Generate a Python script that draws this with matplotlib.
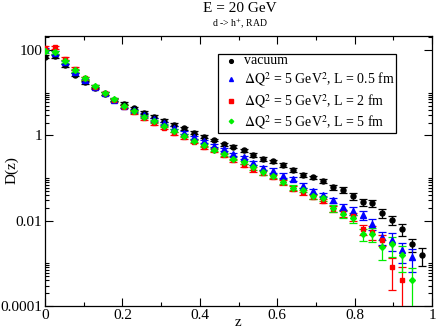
import numpy as np
import matplotlib
matplotlib.use("Agg")
import matplotlib.pyplot as plt
from matplotlib.patches import Rectangle
from matplotlib.ticker import FixedLocator, FixedFormatter, NullFormatter

plt.rcParams['font.family'] = ['Liberation Serif', 'DejaVu Serif']
plt.rcParams['mathtext.fontset'] = 'stix'

z = [0.0, 0.026, 0.051, 0.077, 0.103, 0.128, 0.154, 0.179, 0.205, 0.231,
     0.256, 0.282, 0.308, 0.333, 0.359, 0.385, 0.41, 0.436, 0.462, 0.487,
     0.513, 0.538, 0.564, 0.59, 0.615, 0.641, 0.667, 0.692, 0.718, 0.744,
     0.769, 0.795, 0.821, 0.846, 0.872, 0.897, 0.923, 0.949, 0.974]
nan = float('nan')

vacuum = [69.8, 71.3, 44.0, 26.5, 17.6, 13.0, 9.5, 6.92, 5.58, 4.31,
          3.44, 2.77, 2.24, 1.79, 1.47, 1.17, 0.931, 0.784, 0.629, 0.544,
          0.456, 0.348, 0.281, 0.247, 0.203, 0.154, 0.121, 0.1045, 0.0843, 0.0610,
          0.0533, 0.0376, 0.0272, 0.0257, 0.0151, 0.01057, 0.00638, 0.00281, 0.00161]
L05 = [104, 86.5, 52.5, 31.2, 19.6, 13.9, 9.76, 6.81, 4.80, 3.91,
       3.04, 2.39, 1.92, 1.51, 1.17, 0.916, 0.723, 0.574, 0.475, 0.360,
       0.306, 0.230, 0.176, 0.150, 0.1146, 0.0949, 0.0668, 0.0492, 0.0406, 0.0299,
       0.0208, 0.0170, 0.0137, 0.00843, 0.00408, 0.00360, 0.00203, 0.00139, nan]
L2 = [113, 117.5, 62.7, 36.6, 21.9, 13.9, 9.76, 6.70, 4.67, 3.48,
      2.55, 1.95, 1.51, 1.14, 0.906, 0.719, 0.530, 0.451, 0.344, 0.261,
      0.201, 0.161, 0.131, 0.1067, 0.0798, 0.0569, 0.0467, 0.0361, 0.0290, 0.0191,
      0.0151, 0.0126, 0.00628, 0.00543, 0.00360, 0.000802, 0.000398, nan, nan]
L5 = [94.8, 89.9, 55.5, 33.6, 21.9, 14.5, 9.76, 7.00, 4.93, 3.71,
      2.73, 2.14, 1.68, 1.29, 0.984, 0.752, 0.583, 0.463, 0.360, 0.285,
      0.234, 0.179, 0.137, 0.113, 0.0828, 0.0600, 0.0533, 0.0370, 0.0333, 0.0197,
      0.0146, 0.0114, 0.00488, 0.0050, 0.00241, 0.00277, 0.00161, 0.000405, nan]

# relative errors
err_vacuum = [0.08, 0.08, 0.08, 0.08, 0.08, 0.08, 0.08, 0.08, 0.08, 0.08,
              0.08, 0.08, 0.08, 0.08, 0.08, 0.08, 0.08, 0.08, 0.08, 0.08,
              0.08, 0.10, 0.10, 0.10, 0.10, 0.10, 0.10, 0.10, 0.10, 0.15,
              0.15, 0.18, 0.20, 0.20, 0.22, 0.25, 0.30, 0.36, 0.45]
err_L05 = [0.08, 0.08, 0.08, 0.08, 0.08, 0.08, 0.08, 0.08, 0.08, 0.08,
           0.08, 0.08, 0.08, 0.08, 0.08, 0.08, 0.08, 0.08, 0.08, 0.08,
           0.08, 0.12, 0.12, 0.12, 0.12, 0.12, 0.12, 0.12, 0.12, 0.15,
           0.20, 0.22, 0.25, 0.30, 0.35, 0.45, 0.50, 0.55, nan]
err_L2 = [0.08, 0.08, 0.08, 0.08, 0.08, 0.08, 0.08, 0.08, 0.08, 0.08,
          0.08, 0.08, 0.08, 0.08, 0.08, 0.08, 0.08, 0.08, 0.08, 0.08,
          0.08, 0.12, 0.12, 0.12, 0.12, 0.12, 0.12, 0.12, 0.12, 0.18,
          0.20, 0.22, 0.27, 0.35, 0.30, 0.71, 1.05, nan, nan]
err_L5 = [0.08, 0.08, 0.08, 0.08, 0.08, 0.08, 0.08, 0.08, 0.08, 0.08,
          0.08, 0.08, 0.08, 0.08, 0.08, 0.08, 0.08, 0.08, 0.08, 0.08,
          0.08, 0.12, 0.12, 0.12, 0.12, 0.12, 0.12, 0.12, 0.12, 0.18,
          0.20, 0.22, 0.30, 0.35, 0.50, 0.50, 0.60, 0.93, nan]

labels = ["vacuum",
          r"$\Delta\mathrm{Q}^2$ = 5 GeV$^2$, L = 0.5 fm",
          r"$\Delta\mathrm{Q}^2$ = 5 GeV$^2$, L = 2 fm",
          r"$\Delta\mathrm{Q}^2$ = 5 GeV$^2$, L = 5 fm"]
series = [vacuum, L05, L2, L5]
errs = [err_vacuum, err_L05, err_L2, err_L5]
colors = ['#000000', '#0000ff', '#ff0000', '#00ee00']
markers = ['o', '^', 's', 'D']
msizes = [3.6, 3.8, 3.2, 3.0]

W, H = 436, 332
ax_l, ax_r, ax_t, ax_b = 45, 432, 36, 306
fig = plt.figure(figsize=(W / 100, H / 100), dpi=100)
ax = fig.add_axes([ax_l / W, 1 - ax_b / H, (ax_r - ax_l) / W, (ax_b - ax_t) / H])
ax.set_yscale('log')

zz = np.array(z)
for vals, er, c, m, ms in zip(series, errs, colors, markers, msizes):
    v = np.array(vals, dtype=float)
    e = np.array(er, dtype=float) * v
    ax.errorbar(zz, v, yerr=e, fmt=m, color=c, ms=ms, mec=c, mfc=c,
                ecolor=c, elinewidth=0.9, capsize=3.2, capthick=0.9, zorder=3)

ax.set_xlim(0, 1)
ax.set_ylim(1e-4, 215)

ax.xaxis.set_major_locator(FixedLocator([0, 0.2, 0.4, 0.6, 0.8, 1.0]))
ax.xaxis.set_major_formatter(FixedFormatter(["0", "0.2", "0.4", "0.6", "0.8", "1"]))
ax.xaxis.set_minor_locator(FixedLocator([0.1, 0.3, 0.5, 0.7, 0.9]))
ax.yaxis.set_major_locator(FixedLocator([1e-4, 1e-2, 1, 100]))
ax.yaxis.set_major_formatter(FixedFormatter(["0.0001", "0.01", "1", "100"]))
minors = []
for base in [1e-4, 1e-2, 1, 100]:
    for k in range(2, 11):
        val = base * k
        if val < 215:
            minors.append(val)
ax.yaxis.set_minor_locator(FixedLocator(minors))
ax.yaxis.set_minor_formatter(NullFormatter())

ax.tick_params(which='both', direction='in', top=True, right=True, labelsize=11,
               width=0.8, colors='black')
ax.tick_params(which='major', length=6, pad=2)
ax.tick_params(which='minor', length=3)
for s in ax.spines.values():
    s.set_linewidth(0.9)

def fx(px):
    return px / W

def fy(py):
    return 1 - py / H

fig.text(fx(238), fy(322), "z", ha='center', va='center', fontsize=11)
fig.text(fx(12), fy(170), "D(z)", ha='center', va='center', fontsize=11, rotation=90)

fig.text(fx(240), fy(12.5), "E = 20 GeV", ha='center', va='baseline', fontsize=11)
fig.text(fx(240), fy(26.5), r"d -> h$^{+}$, RAD", ha='center', va='baseline', fontsize=7)

# legend drawn manually in figure coordinates
box = Rectangle((fx(218), fy(133)), fx(396) - fx(218), fy(54) - fy(133),
                transform=fig.transFigure, facecolor='white', edgecolor='black',
                linewidth=0.9, zorder=5)
fig.add_artist(box)
row_marker_y = [61, 78.5, 100.5, 121]
row_text_y = [61, 80, 101.5, 122.5]
for c, m, ms, lab, my, ty in zip(colors, markers, msizes, labels, row_marker_y, row_text_y):
    fig.add_artist(plt.Line2D([fx(231)], [fy(my)], transform=fig.transFigure,
                              marker=m, color=c, ms=ms * 0.75, linestyle='none', zorder=6))
    fig.text(fx(244), fy(ty), lab, ha='left', va='center', fontsize=10, zorder=6)

fig.savefig("out.png", dpi=100)
